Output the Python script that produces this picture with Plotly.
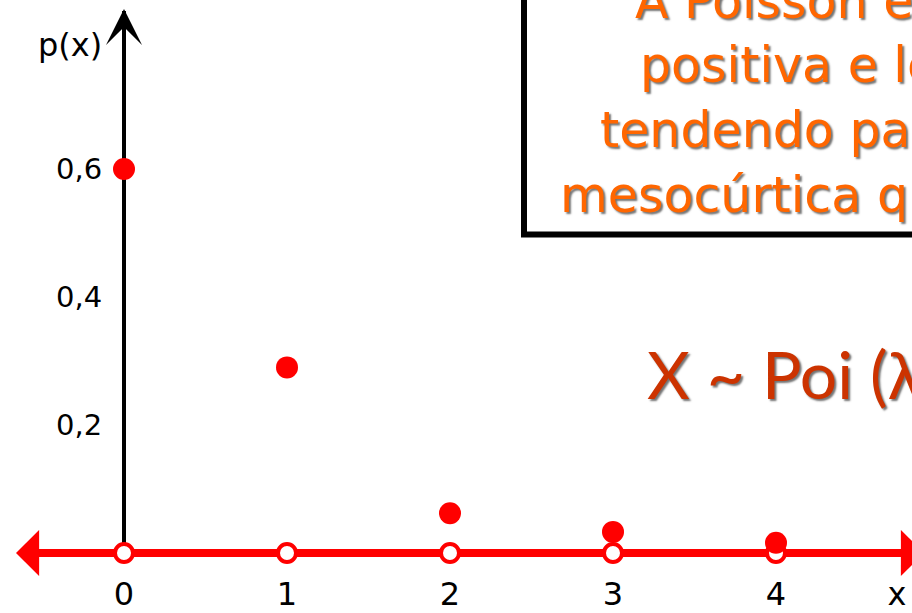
import plotly.graph_objects as go

# ---- data ----
x_vals = [0, 1, 2, 3, 4]
p_vals = [0.60, 0.29, 0.062, 0.033, 0.016]
base_vals = [0, 0, 0, 0, 0]
x_tick_vals = [0, 1, 2, 3, 4]
x_tick_text = ["0", "1", "2", "3", "4"]
y_tick_vals = [0.2, 0.4, 0.6]
box_lines = ["A Poisson é", "positiva e le", "tendendo par", "mesocúrtica qu"]
model_text = "X ~ Poi (λ"
y_label = "p(x)"
x_label = "x"

# ---- geometry (pixels of the 912x613 page) ----
W, H = 912, 613
X0_PX, X_SCALE = 124, 163.0     # pixel of x=0, pixels per unit
Y0_PX, Y_SCALE = 553, 640.0     # pixel of p=0, pixels per unit


def px_to_x(px):
    return (px - X0_PX) / X_SCALE


def py_to_y(py):
    return (Y0_PX - py) / Y_SCALE


def px_paper(px):
    return px / W


def py_paper(py):
    return (H - py) / H


RED = "#FF0000"
ORANGE = "#FF6600"
DARK_ORANGE = "#CC3300"

fig = go.Figure()

# open circles on the axis
fig.add_trace(go.Scatter(
    x=x_vals, y=base_vals, mode="markers", cliponaxis=False,
    marker=dict(size=18, color="white", line=dict(color=RED, width=4)),
    hoverinfo="skip", showlegend=False,
))
# probability points
fig.add_trace(go.Scatter(
    x=x_vals, y=p_vals, mode="markers", cliponaxis=False,
    marker=dict(size=22, color=RED, line=dict(width=0)),
    showlegend=False,
))

left_px, right_px, top_px = 22, 912, 11

fig.update_layout(
    width=W, height=H,
    margin=dict(l=0, r=0, t=0, b=0),
    paper_bgcolor="white", plot_bgcolor="white",
    separators=",.",
    showlegend=False,
    xaxis=dict(
        domain=[px_paper(left_px), 1],
        range=[px_to_x(left_px), px_to_x(right_px)],
        anchor="free", position=py_paper(Y0_PX), automargin=False,
        showline=True, linecolor=RED, linewidth=8,
        showgrid=False, zeroline=False,
        tickmode="array",
        tickvals=x_tick_vals + [px_to_x(897)],
        ticktext=x_tick_text + [x_label],
        ticks="outside", ticklen=10, tickcolor="rgba(0,0,0,0)",
        tickfont=dict(family="DejaVu Sans", size=32, color="black"),
        layer="below traces",
    ),
    yaxis=dict(
        domain=[py_paper(Y0_PX), py_paper(top_px)],
        range=[0, py_to_y(top_px)],
        anchor="free", position=px_paper(X0_PX), automargin=False,
        showline=True, linecolor="black", linewidth=4,
        showgrid=False, zeroline=False,
        tickmode="array", tickvals=y_tick_vals, tickformat=".1f",
        ticks="outside", ticklen=14, tickcolor="rgba(0,0,0,0)",
        tickfont=dict(family="DejaVu Sans", size=29, color="black"),
        layer="below traces",
    ),
)

annotations = []
# arrow heads of the axes
annotations.append(dict(
    x=px_to_x(16), y=0, ax=px_to_x(80), ay=0, xref="x", yref="y",
    axref="x", ayref="y", text="", showarrow=True, arrowhead=1,
    arrowsize=1.1, arrowwidth=7, arrowcolor=RED, standoff=0, startstandoff=0,
))
annotations.append(dict(
    x=px_to_x(924), y=0, ax=px_to_x(850), ay=0, xref="x", yref="y",
    axref="x", ayref="y", text="", showarrow=True, arrowhead=1,
    arrowsize=1.1, arrowwidth=7, arrowcolor=RED, standoff=0, startstandoff=0,
))
annotations.append(dict(
    x=0, y=py_to_y(9), ax=0, ay=py_to_y(80), xref="x", yref="y",
    axref="x", ayref="y", text="", showarrow=True, arrowhead=3,
    arrowsize=1.5, arrowwidth=4, arrowcolor="black", standoff=0, startstandoff=0,
))
# axis name p(x)
annotations.append(dict(
    x=px_paper(104), y=py_paper(45), xref="paper", yref="paper",
    xanchor="right", yanchor="middle", text=y_label, showarrow=False,
    font=dict(family="DejaVu Sans", size=32, color="black"),
))
# text box lines
box_starts = [633, 638, 598, 558]
box_mids = [1, 65, 130, 195]
shadow = "2px 2px 2px rgba(0,0,0,0.55)"
for txt, xs, ym in zip(box_lines, box_starts, box_mids):
    annotations.append(dict(
        x=px_paper(xs), y=py_paper(ym), xref="paper", yref="paper",
        xanchor="left", yanchor="middle", text=txt, showarrow=False,
        font=dict(family="DejaVu Sans", size=49, color=ORANGE, shadow=shadow),
    ))
# model label
annotations.append(dict(
    x=px_paper(645), y=py_paper(373), xref="paper", yref="paper",
    xanchor="left", yanchor="middle", text=model_text, showarrow=False,
    font=dict(family="Lato", size=66, color=DARK_ORANGE, shadow=shadow),
))

fig.update_layout(annotations=annotations)

# framed box in the top right corner
fig.add_shape(
    type="rect", xref="paper", yref="paper",
    x0=px_paper(524), x1=1.05, y0=py_paper(234.5), y1=1.05,
    line=dict(color="black", width=6), fillcolor="white", layer="below",
)

fig.write_html(
    "out.html",
    config={"displayModeBar": False},
    post_script="document.body.style.margin='0px';"
                "document.body.style.overflow='hidden';",
)
